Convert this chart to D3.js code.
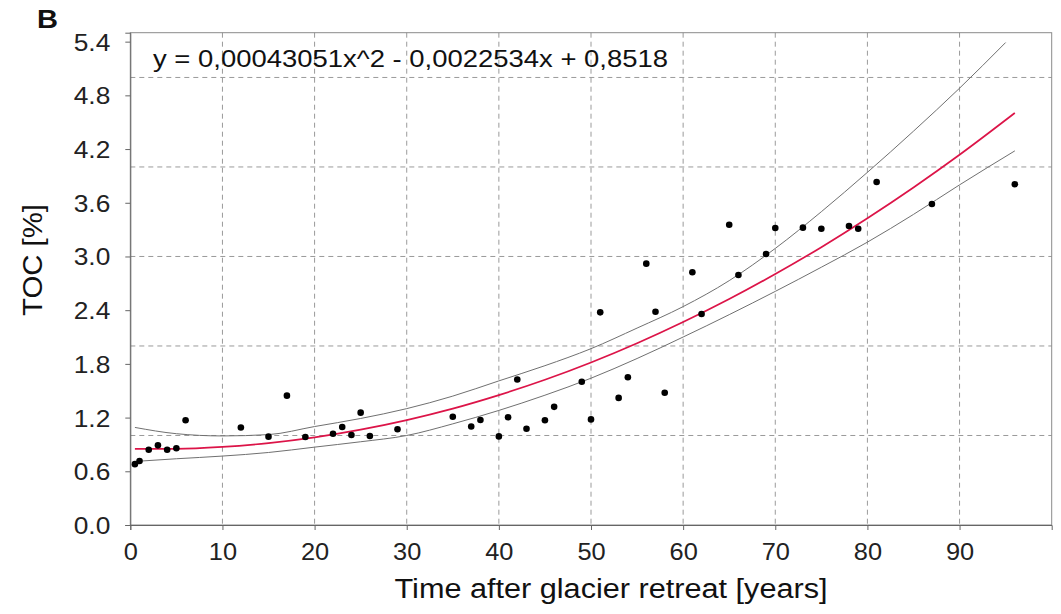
<!DOCTYPE html>
<html><head><meta charset="utf-8">
<script src="https://cdn.jsdelivr.net/npm/d3@7"></script>
<style>body{margin:0;background:#fff;}svg{display:block;font-family:"Liberation Sans",Arial,sans-serif;}</style>
</head><body>
<svg id="c" width="1061" height="614"></svg>
<script>
// Data points (years after retreat, TOC %)
const pointX = [0.5,1,2,3,4,5,6,12,15,17,19,22,23,24,25,26,29,35,37,38,40,41,42,43,45,46,49,50,51,53,54,56,57,58,61,62,65,66,69,70,73,75,78,79,81,87,96];
const pointY = [0.68,0.715,0.84,0.89,0.84,0.857,1.17,1.09,0.987,1.445,0.983,1.02,1.095,1.005,1.255,0.994,1.07,1.21,1.10,1.173,0.99,1.203,1.626,1.076,1.17,1.32,1.60,1.18,2.376,1.42,1.65,2.92,2.383,1.478,2.823,2.357,3.355,2.793,3.028,3.318,3.322,3.31,3.34,3.31,3.832,3.587,3.807];
// Fitted curve
const fitX = [0.5,5,10,15,20,25,30,35,40,45,50,55,60,65,70,75,80,85,90,96];
const fitY = [0.851,0.851,0.872,0.915,0.979,1.065,1.172,1.300,1.451,1.622,1.815,2.030,2.267,2.524,2.804,3.104,3.427,3.771,4.136,4.603];
// Upper band
const upX = [0.5,5,10,15,20,25,30,35,40,45,50,55,60,65,70,75,80,85,90,95];
const upY = [1.09,1.02,0.995,1.01,1.10,1.19,1.30,1.44,1.61,1.78,1.97,2.20,2.44,2.73,3.09,3.50,3.94,4.40,4.88,5.39];
// Lower band
const loX = [0.5,5,10,15,20,25,30,35,40,45,50,55,60,65,70,75,80,85,90,96];
const loY = [0.71,0.74,0.77,0.81,0.87,0.93,1.00,1.13,1.28,1.45,1.64,1.86,2.10,2.35,2.61,2.88,3.16,3.47,3.80,4.18];
const xTicks = [0,10,20,30,40,50,60,70,80,90];
const yTicks = [0,0.6,1.2,1.8,2.4,3.0,3.6,4.2,4.8,5.4];
const xGrid = [10,20,30,40,50,60,70,80,90];
const yGrid = [1,2,3,4,5];
const equation = "y = 0,00043051x^2 - 0,0022534x + 0,8518";
const panelLabel = "B";
const xTitle = "Time after glacier retreat [years]";
const yTitle = "TOC [%]";

const svg = d3.select("#c");
const L = 130.3, R = 1051.7, T = 32.7, B = 525;
const x = d3.scaleLinear().domain([0,100]).range([L,R]);
const y = d3.scaleLinear().domain([0,5.5]).range([B,T]);

function stretch(sel, k){
  sel.each(function(){
    const w = this.getComputedTextLength();
    d3.select(this).attr("textLength", w*k).attr("lengthAdjust","spacingAndGlyphs");
  });
}

// grid
svg.append("g").selectAll("line").data(xGrid).join("line")
  .attr("x1",d=>x(d)).attr("x2",d=>x(d)).attr("y1",T).attr("y2",B)
  .attr("stroke","#9a9a9a").attr("stroke-width",1).attr("stroke-dasharray","5,4");
svg.append("g").selectAll("line").data(yGrid).join("line")
  .attr("y1",d=>y(d)).attr("y2",d=>y(d)).attr("x1",L).attr("x2",R)
  .attr("stroke","#9a9a9a").attr("stroke-width",1).attr("stroke-dasharray","5,4");

// frame
svg.append("rect").attr("x",L).attr("y",T).attr("width",R-L).attr("height",B-T)
  .attr("fill","none").attr("stroke","#8a8a8a").attr("stroke-width",1);

// axes
const xAxis = svg.append("g").attr("transform",`translate(0,${B})`)
  .call(d3.axisBottom(x).tickValues(xTicks).tickSize(5).tickPadding(13).tickFormat(d3.format("d")));
const yAxis = svg.append("g").attr("transform",`translate(${L},0)`)
  .call(d3.axisLeft(y).tickValues(yTicks).tickSize(5).tickPadding(15).tickFormat(d3.format(".1f")));
[xAxis,yAxis].forEach(g=>{
  g.select(".domain").attr("stroke","#666");
  g.selectAll(".tick line").attr("stroke","#666");
  g.selectAll("text").attr("fill","#222").attr("font-size","23.5px").attr("font-family","Liberation Sans, Arial, sans-serif");
});
yAxis.selectAll("text").attr("dy","0.36em");
stretch(xAxis.selectAll("text"),1.08);
stretch(yAxis.selectAll("text"),1.12);

// curves
const line = d3.line().x(d=>x(d[0])).y(d=>y(d[1])).curve(d3.curveMonotoneX);
svg.append("path").datum(d3.zip(upX,upY)).attr("d",line).attr("fill","none").attr("stroke","#707070").attr("stroke-width",1);
svg.append("path").datum(d3.zip(loX,loY)).attr("d",line).attr("fill","none").attr("stroke","#707070").attr("stroke-width",1);
svg.append("path").datum(d3.zip(fitX,fitY)).attr("d",line).attr("fill","none").attr("stroke","#dc1448").attr("stroke-width",1.7);

// points
svg.append("g").selectAll("circle").data(d3.zip(pointX,pointY)).join("circle")
  .attr("cx",d=>x(d[0])).attr("cy",d=>y(d[1])).attr("r",3.3).attr("fill","#000");

// texts
svg.append("text").attr("x",153).attr("y",67).attr("font-size","24px").attr("fill","#111")
  .attr("textLength",515).attr("lengthAdjust","spacingAndGlyphs").text(equation);
svg.append("text").attr("x",37).attr("y",28).attr("font-size","26px").attr("font-weight","bold").attr("fill","#111")
  .attr("textLength",21).attr("lengthAdjust","spacingAndGlyphs").text(panelLabel);
svg.append("text").attr("x",611).attr("y",598).attr("text-anchor","middle").attr("font-size","27px").attr("fill","#111")
  .attr("textLength",433).attr("lengthAdjust","spacingAndGlyphs").text(xTitle);
svg.append("text").attr("transform",`translate(42,260) rotate(-90)`).attr("text-anchor","middle").attr("font-size","27px").attr("fill","#111")
  .attr("textLength",112).attr("lengthAdjust","spacingAndGlyphs").text(yTitle);
</script>
</body></html>
